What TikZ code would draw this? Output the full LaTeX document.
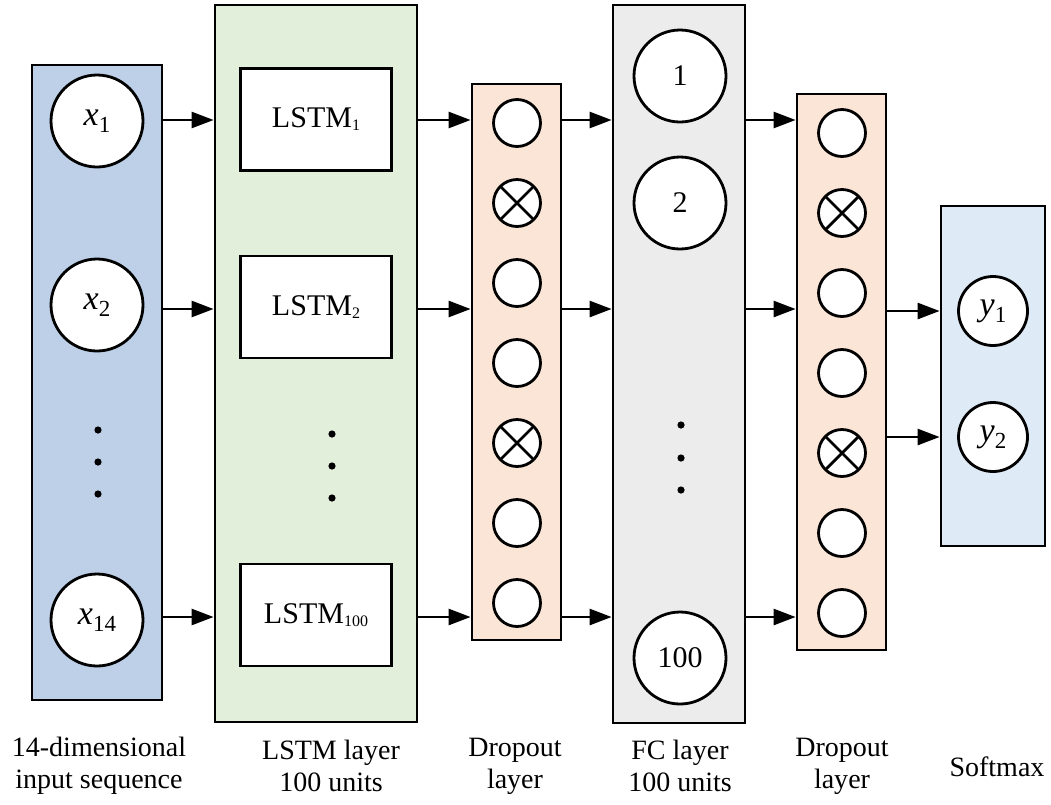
\documentclass[tikz,border=0pt]{standalone}
\usepackage{fontspec}
\setmainfont{Liberation Serif}
\usetikzlibrary{arrows.meta}

\definecolor{inblue}{RGB}{189,208,232}
\definecolor{lstmgreen}{RGB}{226,239,218}
\definecolor{droporange}{RGB}{251,229,214}
\definecolor{fcgray}{RGB}{236,236,236}
\definecolor{softblue}{RGB}{222,235,247}

\newcommand{\cellsub}[1]{\raisebox{-3pt}{\fontsize{16}{16}\selectfont #1}}
\newcommand{\unitvar}[2]{{\fontsize{34}{36}\selectfont\itshape #1}\raisebox{-7pt}{\fontsize{23}{23}\selectfont #2}}

\begin{document}
\begin{tikzpicture}[x=1pt, y=-1pt, >={Triangle[length=22pt,width=16pt]},
    layer/.style={draw, rectangle, line width=2.8pt, inner sep=0pt},
    unit/.style={draw, circle, line width=2.8pt, fill=white, inner sep=0pt,
        font=\fontsize{30}{36}\selectfont},
    bigunit/.style={unit, minimum size=92pt},
    dropunit/.style={unit, minimum size=47pt},
    dropped/.style={dropunit, path picture={
        \draw[line width=2.8pt] (path picture bounding box.north west) -- (path picture bounding box.south east);
        \draw[line width=2.8pt] (path picture bounding box.north east) -- (path picture bounding box.south west);}},
    softunit/.style={unit, minimum size=69pt},
    cellbox/.style={draw, rectangle, line width=2.8pt, fill=white,
        minimum width=151pt, minimum height=102pt, font=\fontsize{30}{36}\selectfont},
    caption/.style={align=center, font=\fontsize{28}{32}\selectfont},
    conn/.style={->, line width=2.6pt}]

    \useasboundingbox (0,0) rectangle (1051,804);

    % Draw the layer boxes
    \node[layer, fill=inblue, minimum width=130pt, minimum height=635pt] (inp) at (97,382.5) {};
    \node[layer, fill=lstmgreen, minimum width=202pt, minimum height=717pt] (lstm) at (316,363.5) {};
    \node[layer, fill=droporange, minimum width=89pt, minimum height=556pt] (dropa) at (516.5,362) {};
    \node[layer, fill=fcgray, minimum width=132pt, minimum height=718pt] (fc) at (679,364) {};
    \node[layer, fill=droporange, minimum width=89pt, minimum height=556pt] (dropb) at (841.5,372) {};
    \node[layer, fill=softblue, minimum width=104pt, minimum height=340pt] (soft) at (993,376) {};

    % Draw the input units
    \node[bigunit] (x1) at (97,121) {\unitvar{x}{1}};
    \node[bigunit] (x2) at (97,305) {\unitvar{x}{2}};
    \node[bigunit] (x14) at (97,620) {\unitvar{x}{14}};
    \foreach \y in {430,462,494} \fill (98,\y) circle (3.6pt);

    % Draw the LSTM cells
    \node[cellbox] (cell1) at (316,119.5) {LSTM\cellsub{1}};
    \node[cellbox] (cell2) at (316,307) {LSTM\cellsub{2}};
    \node[cellbox] (cell100) at (316,615) {LSTM\cellsub{100}};
    \foreach \y in {434,466,498} \fill (332,\y) circle (3.6pt);

    % Draw the dropout units (crossed ones are dropped)
    \foreach \i/\kind in {0/dropunit,1/dropped,2/dropunit,3/dropunit,4/dropped,5/dropunit,6/dropunit} {
        \node[\kind] (da\i) at (517,123+80*\i) {};
        \node[\kind] (db\i) at (842,133+80*\i) {};
    }

    % Draw the fully connected units
    \node[bigunit] (f1) at (680,76) {1};
    \node[bigunit] (f2) at (680,203) {2};
    \node[bigunit] (f100) at (680,658) {100};
    \foreach \y in {425,458,490} \fill (681,\y) circle (3.6pt);

    % Draw the softmax outputs
    \node[softunit] (y1) at (993,311) {\unitvar{y}{1}};
    \node[softunit] (y2) at (993,437) {\unitvar{y}{2}};

    % Rows of the connectors
    \coordinate (rowa) at (0,120);
    \coordinate (rowb) at (0,309);
    \coordinate (rowc) at (0,617);

    % Draw the connectors between the layers
    \foreach \src/\dst in {inp/lstm,lstm/dropa,dropa/fc,fc/dropb} {
        \draw[conn] (\src.east |- rowa) -- (\dst.west |- rowa);
        \draw[conn] (\src.east |- rowb) -- (\dst.west |- rowb);
        \draw[conn] (\src.east |- rowc) -- (\dst.west |- rowc);
    }
    \draw[conn] (dropb.east |- y1) -- (soft.west |- y1);
    \draw[conn] (dropb.east |- y2) -- (soft.west |- y2);

    % Draw the captions
    \node[caption] (capin) at (99,766) {14-dimensional\\input sequence};
    \node[caption] (caplstm) at (331,766) {LSTM layer\\100 units};
    \node[caption] (capda) at (515,766) {Dropout\\layer};
    \node[caption] (capfc) at (680,766) {FC layer\\100 units};
    \node[caption] (capdb) at (842,766) {Dropout\\layer};
    \node[caption] (capsoft) at (997,767) {Softmax};

\end{tikzpicture}
\end{document}
